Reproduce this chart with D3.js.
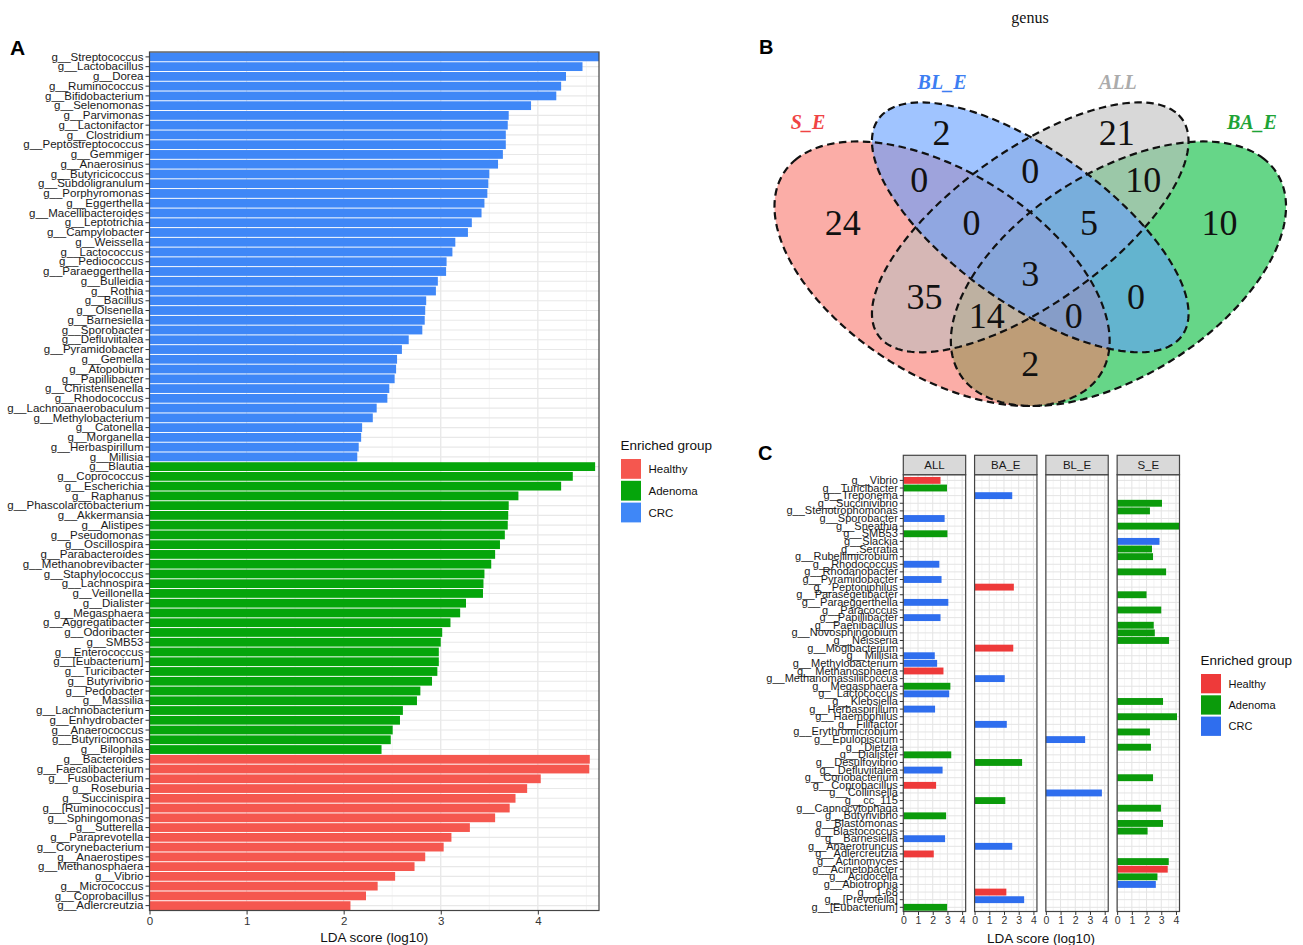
<!DOCTYPE html>
<html>
<head>
<meta charset="utf-8">
<script src="https://cdn.jsdelivr.net/npm/d3@7"></script>
<style>
  body { margin: 0; background: #fff; }
  svg { display: block; font-family: "Liberation Sans", Arial, sans-serif; }
</style>
</head>
<body>
<svg id="fig" width="1303" height="945"></svg>
<script>
// ---------------------------------
// Panel A data: LDA scores per enriched group
// ---------------------------------
const crcGenera = ["g__Streptococcus", "g__Lactobacillus", "g__Dorea", "g__Ruminococcus", "g__Bifidobacterium",
  "g__Selenomonas", "g__Parvimonas", "g__Lactonifactor", "g__Clostridium", "g__Peptostreptococcus", "g__Gemmiger",
  "g__Anaerosinus", "g__Butyricicoccus", "g__Subdoligranulum", "g__Porphyromonas", "g__Eggerthella",
  "g__Macellibacteroides", "g__Leptotrichia", "g__Campylobacter", "g__Weissella", "g__Lactococcus", "g__Pediococcus",
  "g__Paraeggerthella", "g__Bulleidia", "g__Rothia", "g__Bacillus", "g__Olsenella", "g__Barnesiella", "g__Sporobacter",
  "g__Defluviitalea", "g__Pyramidobacter", "g__Gemella", "g__Atopobium", "g__Papillibacter", "g__Christensenella",
  "g__Rhodococcus", "g__Lachnoanaerobaculum", "g__Methylobacterium", "g__Catonella", "g__Morganella",
  "g__Herbaspirillum", "g__Millisia"];
const crcScores = [4.63, 4.46, 4.29, 4.24, 4.19, 3.93, 3.70, 3.69, 3.67, 3.67, 3.64, 3.59, 3.50, 3.49, 3.48, 3.45,
  3.42, 3.32, 3.28, 3.15, 3.12, 3.06, 3.055, 2.97, 2.95, 2.85, 2.84, 2.835, 2.81, 2.67, 2.60, 2.55, 2.54, 2.525, 2.47,
  2.45, 2.34, 2.30, 2.19, 2.18, 2.155, 2.14];

const adenomaGenera = ["g__Blautia", "g__Coprococcus", "g__Escherichia", "g__Raphanus", "g__Phascolarctobacterium",
  "g__Akkermansia", "g__Alistipes", "g__Pseudomonas", "g__Oscillospira", "g__Parabacteroides", "g__Methanobrevibacter",
  "g__Staphylococcus", "g__Lachnospira", "g__Veillonella", "g__Dialister", "g__Megasphaera", "g__Aggregatibacter",
  "g__Odoribacter", "g__SMB53", "g__Enterococcus", "g__[Eubacterium]", "g__Turicibacter", "g__Butyrivibrio",
  "g__Pedobacter", "g__Massilia", "g__Lachnobacterium", "g__Enhydrobacter", "g__Anaerococcus", "g__Butyricimonas",
  "g__Bilophila"];
const adenomaScores = [4.59, 4.36, 4.24, 3.80, 3.70, 3.695, 3.69, 3.66, 3.61, 3.56, 3.52, 3.45, 3.44, 3.435, 3.26,
  3.20, 3.10, 3.015, 3.00, 2.98, 2.98, 2.965, 2.91, 2.79, 2.755, 2.61, 2.58, 2.505, 2.485, 2.39];

const healthyGenera = ["g__Bacteroides", "g__Faecalibacterium", "g__Fusobacterium", "g__Roseburia", "g__Succinispira",
  "g__[Ruminococcus]", "g__Sphingomonas", "g__Sutterella", "g__Paraprevotella", "g__Corynebacterium",
  "g__Anaerostipes", "g__Methanosphaera", "g__Vibrio", "g__Micrococcus", "g__Coprobacillus", "g__Adlercreutzia"];
const healthyScores = [4.535, 4.53, 4.03, 3.89, 3.77, 3.71, 3.56, 3.30, 3.11, 3.03, 2.84, 2.73, 2.53, 2.35, 2.23, 2.07];

const groupNames = ["Healthy", "Adenoma", "CRC"];
const ldaTicks = [0, 1, 2, 3, 4];

// ---------------------------------
// Panel B data: genus Venn counts
// ---------------------------------
const vennSets = ["S_E", "BL_E", "ALL", "BA_E"];
// S_E, BL_E, ALL, BA_E, S∩BL, BL∩ALL, ALL∩BA, S∩BL∩ALL, BL∩ALL∩BA, S∩ALL, all four, BL∩BA, S∩ALL∩BA, S∩BL∩BA, S∩BA
const vennCounts = [24, 2, 21, 10, 0, 0, 10, 0, 5, 35, 3, 0, 14, 0, 2];

// ---------------------------------
// Panel C data: genera unique to each comparison
// ---------------------------------
const facetNames = ["ALL", "BA_E", "BL_E", "S_E"];
const cGenera = ["g__Vibrio", "g__Turicibacter", "g__Treponema", "g__Succinivibrio", "g__Stenotrophomonas",
  "g__Sporobacter", "g__Sneathia", "g__SMB53", "g__Slackia", "g__Serratia", "g__Rubellimicrobium", "g__Rhodococcus",
  "g__Rhodanobacter", "g__Pyramidobacter", "g__Peptoniphilus", "g__Parasegetibacter", "g__Paraeggerthella",
  "g__Paracoccus", "g__Papillibacter", "g__Paenibacillus", "g__Novosphingobium", "g__Neisseria", "g__Mogibacterium",
  "g__Millisia", "g__Methylobacterium", "g__Methanosphaera", "g__Methanomassiliicoccus", "g__Megasphaera",
  "g__Lactococcus", "g__Klebsiella", "g__Herbaspirillum", "g__Haemophilus", "g__Filifactor", "g__Erythromicrobium",
  "g__Epulopiscium", "g__Dietzia", "g__Dialister", "g__Desulfovibrio", "g__Defluviitalea", "g__Coriobacterium",
  "g__Coprobacillus", "g__Collinsella", "g__cc_115", "g__Capnocytophaga", "g__Butyrivibrio", "g__Blastomonas",
  "g__Blastococcus", "g__Barnesiella", "g__Anaerotruncus", "g__Adlercreutzia", "g__Actinomyces", "g__Acinetobacter",
  "g__Acidocella", "g__Abiotrophia", "g__1-68", "g__[Prevotella]", "g__[Eubacterium]"];
const cFacet = ["ALL", "ALL", "BA_E", "S_E", "S_E", "ALL", "S_E", "ALL", "S_E", "S_E", "S_E", "ALL", "S_E", "ALL",
  "BA_E", "S_E", "ALL", "S_E", "ALL", "S_E", "S_E", "S_E", "BA_E", "ALL", "ALL", "ALL", "BA_E", "ALL", "ALL", "S_E",
  "ALL", "S_E", "BA_E", "S_E", "BL_E", "S_E", "ALL", "BA_E", "ALL", "S_E", "ALL", "BL_E", "BA_E", "S_E", "ALL", "S_E",
  "S_E", "ALL", "BA_E", "ALL", "S_E", "S_E", "S_E", "S_E", "BA_E", "BA_E", "ALL"];
const cGroup = ["Healthy", "Adenoma", "CRC", "Adenoma", "Adenoma", "CRC", "Adenoma", "Adenoma", "CRC", "Adenoma",
  "Adenoma", "CRC", "Adenoma", "CRC", "Healthy", "Adenoma", "CRC", "Adenoma", "CRC", "Adenoma", "Adenoma", "Adenoma",
  "Healthy", "CRC", "CRC", "Healthy", "CRC", "Adenoma", "CRC", "Adenoma", "CRC", "Adenoma", "CRC", "Adenoma", "CRC",
  "Adenoma", "Adenoma", "Adenoma", "CRC", "Adenoma", "Healthy", "CRC", "Adenoma", "Adenoma", "Adenoma", "Adenoma",
  "Adenoma", "CRC", "CRC", "Healthy", "Adenoma", "Healthy", "Adenoma", "CRC", "Healthy", "CRC", "Adenoma"];
const cScores = [2.53, 2.97, 2.56, 3.05, 2.23, 2.81, 4.24, 3.00, 2.88, 2.37, 2.44, 2.45, 3.33, 2.60, 2.67, 2.00, 3.06,
  3.00, 2.53, 2.49, 2.56, 3.53, 2.63, 2.14, 2.30, 2.73, 2.05, 3.20, 3.12, 3.12, 2.16, 4.07, 2.19, 2.23, 2.67, 2.30,
  3.26, 3.23, 2.67, 2.44, 2.23, 3.81, 2.09, 2.98, 2.91, 3.12, 2.07, 2.84, 2.56, 2.07, 3.51, 3.44, 2.74, 2.63, 2.16,
  3.37, 2.98];

const SANS = '"Liberation Sans", Arial, sans-serif';
const SERIF = '"Liberation Serif", "Times New Roman", serif';

document.addEventListener("DOMContentLoaded", () => {
  const svg = d3.select("#fig");

  // 1. Panel A: LEfSe bars
  drawLdaBars(svg);

  // 2. Panel B: Venn
  drawVenn(svg);

  // 3. Panel C: faceted bars
  drawFacetBars(svg);

  // panel letters
  svg.append("text").attr("x", 10).attr("y", 55).attr("font-size", 21).attr("font-weight", "bold").text("A");
  svg.append("text").attr("x", 759).attr("y", 54).attr("font-size", 20).attr("font-weight", "bold").text("B");
  svg.append("text").attr("x", 758).attr("y", 460).attr("font-size", 20).attr("font-weight", "bold").text("C");
});

// --- HELPER: legend ---
function drawLegend(svg, x0, y0, colour, keyH, fs) {
  const lg = svg.append("g").attr("transform", `translate(${x0},${y0})`);
  lg.append("text").attr("x", 0).attr("y", 0).attr("font-size", 13.5).attr("fill", "#111").text("Enriched group");
  groupNames.forEach((name, i) => {
    const ky = 9 + i * (keyH + 2);
    lg.append("rect").attr("x", 0.5).attr("y", ky).attr("width", 20).attr("height", keyH).attr("fill", colour(name));
    lg.append("text").attr("x", 28).attr("y", ky + keyH / 2).attr("dy", "0.36em")
      .attr("font-size", fs).attr("fill", "#111").text(name);
  });
}

// --- HELPER: bottom LDA axis ---
function ldaAxis(g, x, y0, size, fs) {
  const xa = g.append("g").attr("transform", `translate(0,${y0})`)
    .call(d3.axisBottom(x).tickValues(ldaTicks).tickFormat(d3.format("d")).tickSize(size).tickPadding(2));
  xa.select(".domain").remove();
  xa.selectAll("line").attr("stroke", "#333");
  xa.selectAll("text").attr("font-size", fs).attr("font-family", SANS).attr("fill", "#333");
}

// --- PANEL A ---
function drawLdaBars(svg) {
  const genera = crcGenera.concat(adenomaGenera, healthyGenera);
  const scores = crcScores.concat(adenomaScores, healthyScores);
  const groups = [].concat(crcGenera.map(() => "CRC"), adenomaGenera.map(() => "Adenoma"),
    healthyGenera.map(() => "Healthy"));
  const idx = d3.range(genera.length);

  const left = 149.5, right = 599, top = 52, bottom = 910.5;
  const colour = d3.scaleOrdinal().domain(groupNames).range(["#F5574F", "#05A50B", "#3F87F7"]);
  const x = d3.scaleLinear().domain([0, d3.max(scores)]).range([left, right]);
  const y = d3.scaleBand().domain(idx).range([top, bottom]).paddingInner(0.1).paddingOuter(0.05);

  const g = svg.append("g");

  // grid (theme_bw look)
  g.selectAll(".minor").data(d3.range(0.5, d3.max(scores), 1)).join("line")
    .attr("x1", d => x(d)).attr("x2", d => x(d)).attr("y1", top).attr("y2", bottom)
    .attr("stroke", "#F2F2F2").attr("stroke-width", 0.8);
  g.selectAll(".major").data(ldaTicks).join("line")
    .attr("x1", d => x(d)).attr("x2", d => x(d)).attr("y1", top).attr("y2", bottom)
    .attr("stroke", "#E6E6E6").attr("stroke-width", 1.2);
  g.selectAll(".hgrid").data(idx).join("line")
    .attr("x1", left).attr("x2", right)
    .attr("y1", i => y(i) + y.bandwidth() / 2).attr("y2", i => y(i) + y.bandwidth() / 2)
    .attr("stroke", "#E8E8E8").attr("stroke-width", 1.1);

  g.selectAll(".bar").data(idx).join("rect")
    .attr("x", x(0)).attr("y", i => y(i))
    .attr("width", i => x(scores[i]) - x(0)).attr("height", y.bandwidth())
    .attr("fill", i => colour(groups[i]));

  g.append("rect").attr("x", left).attr("y", top).attr("width", right - left).attr("height", bottom - top)
    .attr("fill", "none").attr("stroke", "#444").attr("stroke-width", 1.2);

  const ya = g.append("g").attr("transform", `translate(${left},0)`)
    .call(d3.axisLeft(y).tickSize(4).tickPadding(2).tickFormat(i => genera[i]));
  ya.select(".domain").remove();
  ya.selectAll("line").attr("stroke", "#333");
  ya.selectAll("text").attr("font-size", 11.5).attr("font-family", SANS).attr("fill", "#1A1A1A");

  ldaAxis(g, x, bottom, 4, 11.5);

  g.append("text").attr("x", (left + right) / 2).attr("y", 941.5).attr("text-anchor", "middle")
    .attr("font-size", 13.5).attr("fill", "#111").text("LDA score (log10)");

  drawLegend(svg, 620.5, 450, colour, 19.8, 11.5);
}

// --- PANEL B: VENN ---
function drawVenn(svg) {
  // unit space of the VennDiagram quad layout, stretched onto the panel
  const vx = d3.scaleLinear().domain([0.065, 0.935]).range([774.5, 1286]);
  const vy = d3.scaleLinear().domain([0.185, 0.839]).range([406, 102.5]);

  const shapes = [
    { set: "BA_E", cx: 0.65, cy: 0.47, a: 0.35, b: 0.20, rot: 45, fill: "#00BA38" },
    { set: "S_E", cx: 0.35, cy: 0.47, a: 0.35, b: 0.20, rot: 135, fill: "#F8766D" },
    { set: "ALL", cx: 0.50, cy: 0.57, a: 0.35, b: 0.15, rot: 45, fill: "#BEBEBE" },
    { set: "BL_E", cx: 0.50, cy: 0.57, a: 0.35, b: 0.15, rot: 135, fill: "#619CFF" }
  ];
  const ellipse = s => {
    const r = s.rot * Math.PI / 180;
    return d3.range(0, 360, 2).map(deg => {
      const t = deg * Math.PI / 180;
      const ux = s.cx + s.a * Math.cos(t) * Math.cos(r) - s.b * Math.sin(t) * Math.sin(r);
      const uy = s.cy + s.a * Math.cos(t) * Math.sin(r) + s.b * Math.sin(t) * Math.cos(r);
      return [vx(ux), vy(uy)];
    });
  };
  const line = d3.line().curve(d3.curveLinearClosed);

  const g = svg.append("g");
  g.selectAll(".fill").data(shapes).join("path")
    .attr("d", d => line(ellipse(d))).attr("fill", d => d.fill).attr("fill-opacity", 0.6);
  g.selectAll(".edge").data(shapes).join("path")
    .attr("d", d => line(ellipse(d))).attr("fill", "none")
    .attr("stroke", "#111").attr("stroke-width", 2.2).attr("stroke-dasharray", "7.5,4.5");

  // region label positions (unit space), same order as vennCounts
  const regionPos = [[0.181, 0.58], [0.349, 0.773], [0.647, 0.773], [0.822, 0.58], [0.311, 0.672], [0.5, 0.692],
    [0.692, 0.672], [0.400, 0.58], [0.600, 0.58], [0.320, 0.421], [0.5, 0.471], [0.680, 0.421], [0.426, 0.379],
    [0.574, 0.379], [0.5, 0.277]];
  g.selectAll(".count").data(vennCounts).join("text")
    .attr("x", (d, i) => vx(regionPos[i][0])).attr("y", (d, i) => vy(regionPos[i][1]))
    .attr("dy", "0.34em").attr("text-anchor", "middle")
    .attr("font-family", SERIF).attr("font-size", 36).attr("fill", "#111").text(d => d);

  const setPos = [[0.122, 0.796], [0.350, 0.884], [0.649, 0.884], [0.877, 0.796]];
  const setColour = ["#F04444", "#3D7EF2", "#ABABAB", "#1EA336"];
  g.selectAll(".setname").data(vennSets).join("text")
    .attr("x", (d, i) => vx(setPos[i][0])).attr("y", (d, i) => vy(setPos[i][1]))
    .attr("dy", "0.35em").attr("text-anchor", "middle")
    .attr("font-family", SERIF).attr("font-size", 20).attr("font-style", "italic").attr("font-weight", "bold")
    .attr("fill", (d, i) => setColour[i]).text(d => d);

  svg.append("text").attr("x", 1030).attr("y", 23).attr("text-anchor", "middle")
    .attr("font-family", SERIF).attr("font-size", 16).attr("fill", "#111").text("genus");
}

// --- PANEL C: FACETED BARS ---
function drawFacetBars(svg) {
  const idx = d3.range(cGenera.length);
  const top = 474.7, bottom = 911.5, stripTop = 455.3;
  const colour = d3.scaleOrdinal().domain(groupNames).range(["#EE3A3A", "#0B9B0B", "#2F6EEE"]);

  const fx = d3.scaleBand().domain(facetNames).range([903.3, 1179.5]).paddingInner(0.125);
  const y = d3.scaleBand().domain(idx).range([top + 1.5, bottom]).paddingInner(0.1).paddingOuter(0.1);
  const maxScore = d3.max(cScores);

  const g = svg.append("g");

  facetNames.forEach(f => {
    const x0 = fx(f), w = fx.bandwidth();
    const x = d3.scaleLinear().domain([0, maxScore]).range([x0, x0 + w]);
    const pg = g.append("g");

    pg.selectAll(".minor").data(d3.range(0.5, maxScore, 1)).join("line")
      .attr("x1", d => x(d)).attr("x2", d => x(d)).attr("y1", top).attr("y2", bottom)
      .attr("stroke", "#EFEFEF").attr("stroke-width", 0.7);
    pg.selectAll(".major").data(ldaTicks).join("line")
      .attr("x1", d => x(d)).attr("x2", d => x(d)).attr("y1", top).attr("y2", bottom)
      .attr("stroke", "#E4E4E4").attr("stroke-width", 1);
    pg.selectAll(".hgrid").data(idx).join("line")
      .attr("x1", x0).attr("x2", x0 + w)
      .attr("y1", i => y(i) + y.bandwidth() / 2).attr("y2", i => y(i) + y.bandwidth() / 2)
      .attr("stroke", "#E4E4E4").attr("stroke-width", 1);

    pg.selectAll(".bar").data(idx.filter(i => cFacet[i] === f)).join("rect")
      .attr("x", x(0)).attr("y", i => y(i))
      .attr("width", i => x(cScores[i]) - x(0)).attr("height", y.bandwidth())
      .attr("fill", i => colour(cGroup[i]));

    pg.append("rect").attr("x", x0).attr("y", top).attr("width", w).attr("height", bottom - top)
      .attr("fill", "none").attr("stroke", "#444").attr("stroke-width", 1.2);

    // strip
    pg.append("rect").attr("x", x0).attr("y", stripTop).attr("width", w).attr("height", top - stripTop)
      .attr("fill", "#D9D9D9").attr("stroke", "#444").attr("stroke-width", 1.2);
    pg.append("text").attr("x", x0 + w / 2).attr("y", (stripTop + top) / 2).attr("dy", "0.36em")
      .attr("text-anchor", "middle").attr("font-size", 11.5).attr("fill", "#1A1A1A").text(f);

    ldaAxis(pg, x, bottom, 3.5, 10.5);
  });

  const ya = g.append("g").attr("transform", `translate(${fx(facetNames[0])},0)`)
    .call(d3.axisLeft(y).tickSize(3.5).tickPadding(2).tickFormat(i => cGenera[i]));
  ya.select(".domain").remove();
  ya.selectAll("line").attr("stroke", "#333");
  ya.selectAll("text").attr("font-size", 11).attr("font-family", SANS).attr("fill", "#1A1A1A");

  g.append("text").attr("x", 1041).attr("y", 942.5).attr("text-anchor", "middle")
    .attr("font-size", 13.5).attr("fill", "#111").text("LDA score (log10)");

  drawLegend(svg, 1200.5, 665, colour, 19.3, 11);
}
</script>
</body>
</html>
